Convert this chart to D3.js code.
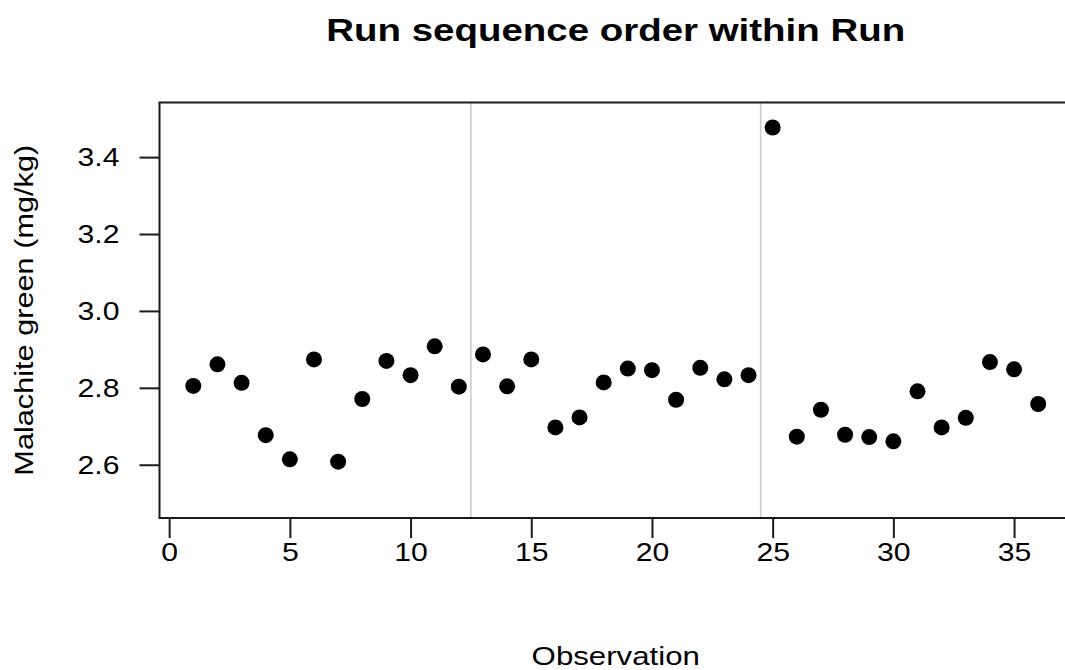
<!DOCTYPE html>
<html>
<head>
<meta charset="utf-8">
<script src="https://cdn.jsdelivr.net/npm/d3@7"></script>
<style>
  html, body { margin: 0; padding: 0; background: #fff; }
  svg { display: block; }
  text { font-family: "Liberation Sans", Arial, sans-serif; fill: #000; }
</style>
</head>
<body>
<svg id="chart" width="1065" height="670"></svg>
<script>
const observations = d3.range(1, 37);
const values = [
  2.805, 2.861, 2.813, 2.677, 2.614, 2.874, 2.608, 2.771, 2.870, 2.833, 2.908, 2.803,
  2.887, 2.804, 2.874, 2.697, 2.723, 2.814, 2.850, 2.846, 2.769, 2.852, 2.822, 2.833,
  3.477, 2.673, 2.743, 2.678, 2.672, 2.661, 2.791, 2.697, 2.722, 2.867, 2.848, 2.758
];
const runBreaks = [12.5, 24.5];
const xTicks = [0, 5, 10, 15, 20, 25, 30, 35];
const yTicks = [2.6, 2.8, 3.0, 3.2, 3.4];
const title = "Run sequence order within Run";
const xLabel = "Observation";
const yLabel = "Malachite green (mg/kg)";

(function () {
const svg = d3.select("#chart");
const pLeft = 159.5, pRight = 1072, pTop = 102.5, pBottom = 518;
const FONT = "Liberation Sans, Arial, sans-serif";

// widen text the way the reference renders it
function stretch(sel, factor) {
  sel.each(function () {
    const w = this.getComputedTextLength();
    d3.select(this).attr("textLength", w * factor).attr("lengthAdjust", "spacingAndGlyphs");
  });
}

const x = d3.scaleLinear().domain([-0.4, 37.4]).range([pLeft, pRight]);
const y = d3.scaleLinear().domain([2.4615, 3.542]).range([pBottom, pTop]);

// run separators
svg.selectAll("line.sep").data(runBreaks).enter().append("line")
  .attr("class", "sep")
  .attr("x1", d => x(d)).attr("x2", d => x(d))
  .attr("y1", pTop).attr("y2", pBottom)
  .attr("stroke", "#c8c8c8").attr("stroke-width", 1.5);

// box
svg.append("rect")
  .attr("x", pLeft).attr("y", pTop)
  .attr("width", pRight - pLeft).attr("height", pBottom - pTop)
  .attr("fill", "none").attr("stroke", "#1a1a1a").attr("stroke-width", 2);

// x axis
const xAxis = d3.axisBottom(x).tickValues(xTicks).tickSize(20).tickPadding(5)
  .tickFormat(d3.format("d"));
const gx = svg.append("g").attr("transform", `translate(0,${pBottom})`).call(xAxis);
gx.select(".domain").remove();
gx.selectAll(".tick line").attr("stroke", "#1a1a1a").attr("stroke-width", 2);
gx.selectAll(".tick text").attr("font-size", 26).attr("font-family", FONT).attr("fill", "#000")
  .call(stretch, 1.16);

// y axis
const yAxis = d3.axisLeft(y).tickValues(yTicks).tickSize(20).tickPadding(20)
  .tickFormat(d3.format(".1f"));
const gy = svg.append("g").attr("transform", `translate(${pLeft},0)`).call(yAxis);
gy.select(".domain").remove();
gy.selectAll(".tick line").attr("stroke", "#1a1a1a").attr("stroke-width", 2);
gy.selectAll(".tick text").attr("font-size", 26).attr("font-family", FONT).attr("fill", "#000")
  .call(stretch, 1.16);

// points
svg.selectAll("circle.pt").data(observations).enter().append("circle")
  .attr("class", "pt")
  .attr("cx", (d, i) => x(d))
  .attr("cy", (d, i) => y(values[i]))
  .attr("r", 8)
  .attr("fill", "#000");

// title
svg.append("text")
  .attr("x", (pLeft + pRight) / 2).attr("y", 41)
  .attr("text-anchor", "middle")
  .attr("font-size", 31).attr("font-weight", "bold")
  .text(title)
  .call(stretch, 1.24);

// axis labels
svg.append("text")
  .attr("x", (pLeft + pRight) / 2).attr("y", 665)
  .attr("text-anchor", "middle")
  .attr("font-size", 26)
  .text(xLabel)
  .call(stretch, 1.2);

svg.append("text")
  .attr("transform", `translate(33,${(pTop + pBottom) / 2}) rotate(-90)`)
  .attr("text-anchor", "middle")
  .attr("font-size", 26)
  .text(yLabel)
  .call(stretch, 1.18);
})();
</script>
</body>
</html>
